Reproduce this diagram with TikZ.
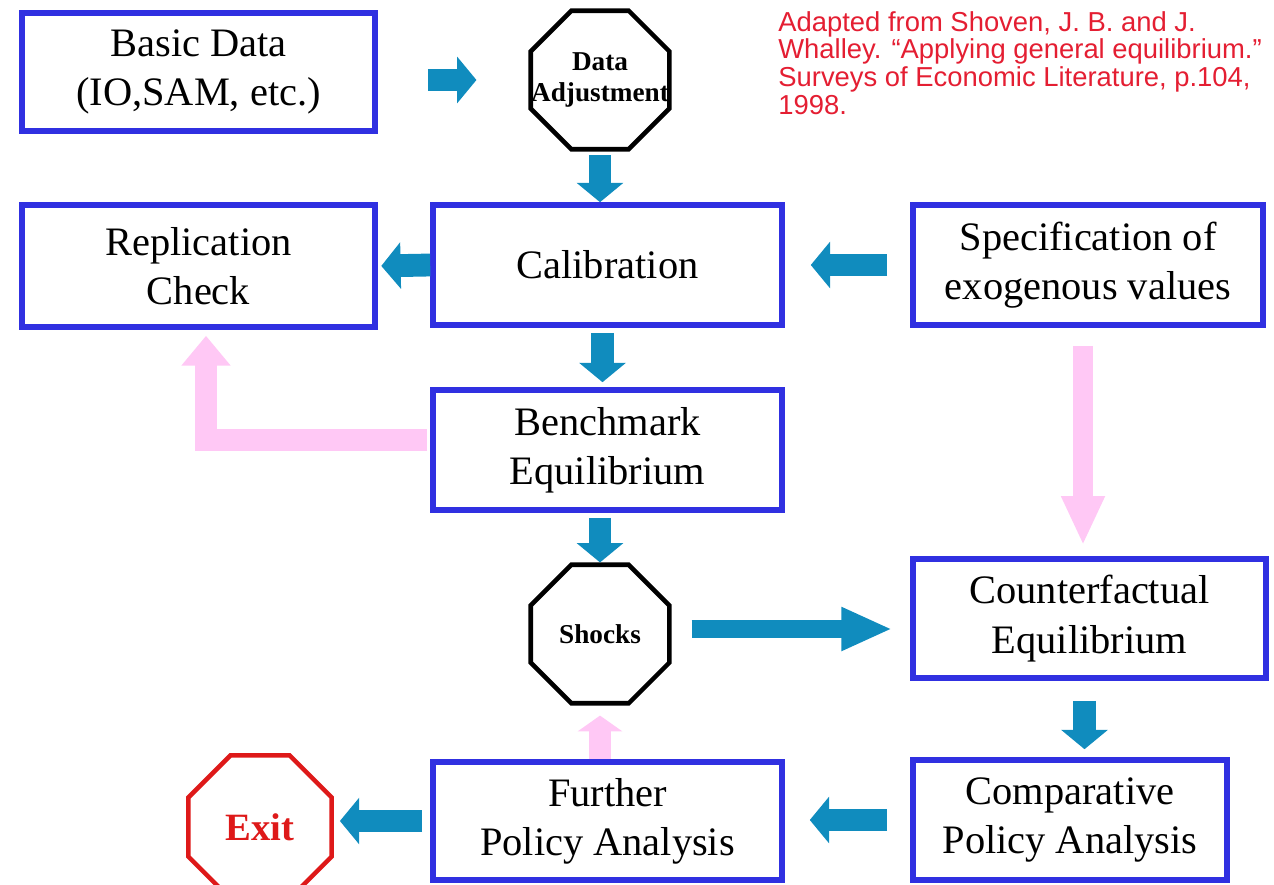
\documentclass[tikz,border=0pt]{standalone}
\usepackage{fontspec}
\setmainfont{Liberation Serif}
\newfontfamily\citefont{Liberation Sans}
\usepackage{xcolor}
\usepackage{tikz}
\usetikzlibrary{arrows.meta,shapes.geometric}

\definecolor{boxblue}{RGB}{48,48,225}
\definecolor{flowteal}{RGB}{16,140,190}
\definecolor{loopink}{RGB}{255,200,245}
\definecolor{exitred}{RGB}{222,25,25}
\definecolor{citered}{RGB}{228,30,50}

\begin{document}
\begin{tikzpicture}[
  x=0.02cm, y=-0.02cm,
  box/.style={draw=boxblue, line width=3.2pt, minimum width=6.98cm,
              minimum height=2.4cm, align=center, inner sep=0pt,
              font=\fontsize{23}{28}\selectfont},
  octa/.style={draw, regular polygon, regular polygon sides=8,
               line width=2.6pt, minimum size=3cm, inner sep=0pt},
  octtext/.style={align=center, font=\bfseries\fontsize{15.5}{17.5}\selectfont},
  flow/.style={draw=flowteal, line width=13pt, -{Triangle[length=11pt,width=26pt]}},
  back/.style={draw=loopink, line width=12.5pt, -{Triangle[length=17pt,width=27pt]}}
]
\useasboundingbox (0,0) rectangle (1274,885);
\clip (0,0) rectangle (1274,885);

\node[box, minimum width=7.06cm, minimum height=2.36cm] (basic) at (198.5,72)
  {Basic Data\\(IO,SAM, etc.)};
\node[octa, label={[octtext]center:Data\\Adjustment}] (adjust) at (600,80) {};
\node[anchor=north west, align=left, inner sep=0pt, text=citered,
      font=\citefont\fontsize{15.6}{15.8}\selectfont] (source) at (778,11)
  {Adapted from Shoven, J. B. and J.\\Whalley. “Applying general equilibrium.”\\Surveys of Economic Literature, p.104,\\1998.};

\node[box, minimum width=7.06cm, minimum height=2.44cm] (replic) at (198.5,266)
  {Replication\\Check};
\node[box] (calib) at (607.5,265) {Calibration};
\node[box, minimum width=7cm] (spec) at (1088,265)
  {Specification of\\exogenous values};
\node[box] (bench) at (607.5,450) {Benchmark\\Equilibrium};

\node[octa, font=\bfseries\fontsize{15.5}{17.5}\selectfont] (shocks) at (600,634) {Shocks};
\node[box, minimum width=7.06cm, minimum height=2.38cm] (counter) at (1089.5,618.5)
  {Counterfactual\\Equilibrium};

\node[box, minimum height=2.36cm] (further) at (607.5,821) {Further\\Policy Analysis};
\node[box, minimum width=6.28cm] (compar) at (1070,820) {Comparative\\Policy Analysis};
\node[octa, draw=exitred, text=exitred, minimum size=3.1cm,
      font=\bfseries\fontsize{22}{26}\selectfont] (exit) at (260,827) {Exit};

\draw[back, shorten <=1.6pt, shorten >=0.12cm] ([yshift=0.2cm]bench.west) -| ([xshift=0.15cm]replic.south);
\draw[back, line width=11pt, -{Triangle[length=28pt,width=23pt]}, shorten <=0.36cm, shorten >=0.22cm]
  ([xshift=-0.1cm]spec.south) -- ([xshift=-0.1cm]spec.south |- counter.north);
\draw[back, -{Triangle[length=9pt,width=25pt]}, shorten >=0.2cm] (shocks.south |- further.north) -- (shocks.south);

\draw[flow, shorten <=1cm, shorten >=1.04cm] (basic.east |- adjust.west) -- (adjust.west);
\draw[flow, shorten <=2pt] (adjust.south) -- (adjust.south |- calib.north);
\draw[flow, shorten >=2pt] (calib.west) -- (replic.east);
\draw[flow, shorten <=0.46cm, shorten >=0.52cm] (spec.west) -- (calib.east);
\draw[flow, shorten <=0.1cm, shorten >=0.1cm] ([xshift=-0.1cm]calib.south) -- ([xshift=-0.1cm]bench.north);
\draw[flow, shorten <=0.1cm] (shocks.north |- bench.south) -- (shocks.north);
\draw[flow, line width=10.5pt, -{Triangle[length=29pt,width=23pt]}, shorten <=0.4cm, shorten >=0.36cm]
  ([yshift=0.1cm]shocks.east) -- ([yshift=0.1cm]shocks.east -| counter.west);
\draw[flow, shorten <=0.4cm, shorten >=0.16cm] ([xshift=-0.1cm]counter.south) -- ([xshift=-0.1cm]counter.south |- compar.north);
\draw[flow, shorten <=0.46cm, shorten >=0.5cm] (compar.west) -- (compar.west -| further.east);
\draw[flow, shorten <=0.16cm, shorten >=0.12cm] (further.west) -- (further.west -| exit.east);
\end{tikzpicture}
\end{document}
